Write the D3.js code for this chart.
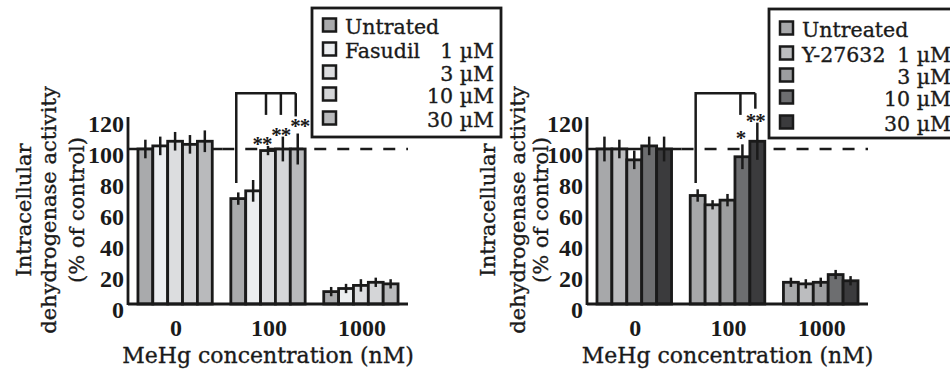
<!DOCTYPE html>
<html>
<head>
<meta charset="utf-8">
<script src="https://cdnjs.cloudflare.com/ajax/libs/d3/7.8.5/d3.min.js"></script>
<style>
  html, body { margin: 0; padding: 0; background: #fff; }
  svg { display: block; }
</style>
</head>
<body>
<div id="chart"></div>
<script>
// MeHg concentrations (x groups)
const groups = ['0', '100', '1000'];
const yTicks = [0, 20, 40, 60, 80, 100, 120];

// left panel: Fasudil
const fasudilNames = ['Untrated', 'Fasudil', '', '', ''];
const fasudilDoses = ['', '1 µM', '3 µM', '10 µM', '30 µM'];
const fasudilMeans = [[100, 102, 105, 103, 105], [68, 73, 99, 100, 100], [8, 10, 12, 14, 13]];
const fasudilErrors = [[6, 6, 6, 6, 7], [4, 7, 3, 8, 10], [3, 3, 4, 3, 3]];
const fasudilColors = ['#a9aaac', '#eceef0', '#dcdddf', '#d5d6d8', '#b9babc'];

// right panel: Y-27632
const y27Names = ['Untreated', 'Y-27632', '', '', ''];
const y27Doses = ['', '1 µM', '3 µM', '10 µM', '30 µM'];
const y27Means = [[100, 100, 93, 102, 100], [70, 64, 67, 95, 105], [14, 13, 14, 19, 15]];
const y27Errors = [[8, 6, 6, 6, 8], [4, 3, 4, 8, 12], [3, 3, 3, 3, 3]];
const y27Colors = ['#a7a8aa', '#bcbdbf', '#9c9d9f', '#6d6e70', '#3b3b3d'];

// significance brackets (group 100): from untreated bar to the marked bars
const fasudilStars = [{ bar: 2, text: '**', at: 105, dx: -6 }, { bar: 3, text: '**', at: 111, dx: -2 }, { bar: 4, text: '**', at: 117, dx: 2 }];
const fasudilDrops = [{ bar: 2, to: 122 }, { bar: 3, to: 122 }, { bar: 4, to: 121 }];
const y27Stars = [{ bar: 3, text: '*', at: 109, dx: -2 }, { bar: 4, text: '**', at: 120, dx: -2 }];
const y27Drops = [{ bar: 3, to: 122 }, { bar: 4, to: 126 }];

const ink = '#1a1a1a';
const serif = 'DejaVu Serif, serif';
const tickFont = 'Liberation Serif, serif';

const svg = d3.select('#chart').append('svg')
  .attr('width', 950)
  .attr('height', 372);

const y = d3.scaleLinear().domain([0, 120]).range([304, 118]);

// regular serif text, a touch heavier like the scanned figure
function label(sel, size) {
  return sel.style('font-family', serif)
    .style('font-size', size + 'px')
    .attr('fill', ink)
    .attr('stroke', ink)
    .attr('stroke-width', 0.35);
}

function drawPanel(p) {
  const g = svg.append('g');

  const x = d3.scaleBand()
    .domain(groups)
    .range([p.left, p.right])
    .paddingInner(0.2)
    .paddingOuter(0.107);

  const sub = d3.scaleBand()
    .domain(d3.range(5))
    .range([0, x.bandwidth()]);

  const cx = (grp, i) => x(grp) + sub(i) + sub.bandwidth() / 2;

  // y-axis title (three lines)
  p.titleLines.forEach((t, i) => {
    label(g.append('text'), 21)
      .attr('transform', `translate(${p.titleX[i]},210) rotate(-90)`)
      .attr('text-anchor', 'middle')
      .text(t);
  });

  // reference line at 100 %
  const x0End = x('0') + x.bandwidth() + 10;
  g.append('line')
    .attr('x1', p.left).attr('x2', x0End)
    .attr('y1', y(100)).attr('y2', y(100))
    .attr('stroke', ink).attr('stroke-width', 2.5);
  g.append('line')
    .attr('x1', x0End).attr('x2', p.right)
    .attr('y1', y(100)).attr('y2', y(100))
    .attr('stroke', ink).attr('stroke-width', 2.5)
    .attr('stroke-dasharray', '12,11');

  // bars
  groups.forEach((grp, gi) => {
    const bars = g.append('g');
    bars.selectAll('rect')
      .data(p.means[gi])
      .enter().append('rect')
      .attr('x', (d, i) => x(grp) + sub(i))
      .attr('y', d => y(d))
      .attr('width', sub.bandwidth())
      .attr('height', d => y(0) - y(d))
      .attr('fill', (d, i) => p.colors[i])
      .attr('stroke', ink)
      .attr('stroke-width', 2.8);

    bars.selectAll('line')
      .data(p.means[gi])
      .enter().append('line')
      .attr('x1', (d, i) => cx(grp, i))
      .attr('x2', (d, i) => cx(grp, i))
      .attr('y1', (d, i) => y(d + p.errors[gi][i]))
      .attr('y2', (d, i) => y(d - p.errors[gi][i]))
      .attr('stroke', ink)
      .attr('stroke-width', 2.5);
  });

  // axes
  g.append('line')
    .attr('x1', p.left).attr('x2', p.left)
    .attr('y1', y(0) + 1).attr('y2', y(120) - 1)
    .attr('stroke', ink).attr('stroke-width', 2.8);
  g.append('line')
    .attr('x1', p.left).attr('x2', p.right)
    .attr('y1', y(0)).attr('y2', y(0))
    .attr('stroke', ink).attr('stroke-width', 2.8);

  g.selectAll('.ytick')
    .data(yTicks)
    .enter().append('text')
    .attr('class', 'ytick')
    .attr('x', p.left - 4)
    .attr('y', d => y(d) + 14)
    .attr('text-anchor', 'end')
    .style('font-family', tickFont)
    .style('font-weight', 'bold')
    .style('font-size', '24px')
    .attr('fill', ink)
    .text(d => d);

  g.selectAll('.xtick')
    .data(groups)
    .enter().append('text')
    .attr('class', 'xtick')
    .attr('x', d => x(d) + x.bandwidth() / 2 + 1)
    .attr('y', 336)
    .attr('text-anchor', 'middle')
    .style('font-family', tickFont)
    .style('font-weight', 'bold')
    .style('font-size', '24px')
    .attr('fill', ink)
    .text(d => d);

  label(g.append('text'), 22)
    .attr('x', (p.left + p.right) / 2)
    .attr('y', 363)
    .attr('text-anchor', 'middle')
    .text('MeHg concentration (nM)');

  // bracket
  const bx = cx('100', 0) - 2;
  const lastBar = p.drops[p.drops.length - 1].bar;
  const br = g.append('g')
    .attr('fill', 'none')
    .attr('stroke', ink)
    .attr('stroke-width', 2.5);
  br.append('path')
    .attr('d', `M${bx},${y(78)}V${y(136)}H${cx('100', lastBar) - 2}`);
  p.drops.forEach(d => {
    br.append('line')
      .attr('x1', cx('100', d.bar) - 2).attr('x2', cx('100', d.bar) - 2)
      .attr('y1', y(136)).attr('y2', y(d.to));
  });

  g.selectAll('.star')
    .data(p.stars)
    .enter().append('text')
    .attr('class', 'star')
    .attr('x', d => cx('100', d.bar) + d.dx)
    .attr('y', d => y(d.at) + 10)
    .attr('text-anchor', 'middle')
    .style('font-family', tickFont)
    .style('font-weight', 'bold')
    .style('font-size', '21px')
    .style('letter-spacing', '-1px')
    .attr('fill', ink)
    .text(d => d.text);

  // legend
  const lg = svg.append('g').attr('class', 'legend-' + p.id);
  lg.append('rect')
    .attr('x', p.legend.x).attr('y', p.legend.y)
    .attr('width', p.legend.w).attr('height', p.legend.h)
    .attr('fill', '#fff')
    .attr('stroke', ink).attr('stroke-width', 2.8);
  p.names.forEach((name, i) => {
    const rowY = p.legend.rows[i];
    lg.append('rect')
      .attr('x', p.legend.x + 11).attr('y', rowY - 6.5)
      .attr('width', 13).attr('height', 13)
      .attr('fill', p.colors[i])
      .attr('stroke', ink).attr('stroke-width', 2.5);
    if (name) {
      label(lg.append('text'), 20.5)
        .attr('x', p.legend.x + 33).attr('y', rowY + 9)
        .text(name);
    }
    if (p.doses[i]) {
      label(lg.append('text'), 20.5)
        .attr('x', p.legend.doseX).attr('y', rowY + 9)
        .attr('text-anchor', 'end')
        .text(p.doses[i]);
    }
  });
}

// right panel first so the left legend box sits on top of its title
drawPanel({
  id: 'y27',
  left: 587, right: 868,
  means: y27Means, errors: y27Errors, colors: y27Colors,
  names: y27Names, doses: y27Doses,
  stars: y27Stars, drops: y27Drops,
  titleLines: ['Intracellular', 'dehydrogenase activity', '(% of control)'],
  titleX: [495, 525, 548],
  legend: { x: 769, y: 9, w: 200, h: 129, rows: [28, 53, 75, 97, 122], doseX: 951 }
});

drawPanel({
  id: 'fas',
  left: 128, right: 408,
  means: fasudilMeans, errors: fasudilErrors, colors: fasudilColors,
  names: fasudilNames, doses: fasudilDoses,
  stars: fasudilStars, drops: fasudilDrops,
  titleLines: ['Intracellular', 'dehydrogenase activity', '(% of control)'],
  titleX: [31, 56, 84],
  legend: { x: 312, y: 8, w: 189, h: 129, rows: [25, 49, 72, 94, 118], doseX: 494 }
});
</script>
</body>
</html>
